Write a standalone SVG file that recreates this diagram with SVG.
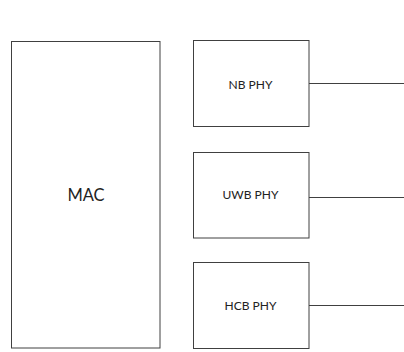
<svg xmlns="http://www.w3.org/2000/svg" width="404" height="352" viewBox="0 0 404 352">
<style>
.box{fill:#fff;stroke:#404040;stroke-width:1}
.lbl{font-family:Lato,"Liberation Sans",sans-serif;fill:#222;text-anchor:middle;dominant-baseline:central}
.wire{stroke:#404040;stroke-width:1;fill:none}
</style>
<rect width="404" height="352" fill="#fff"/>
<g id="mac"><rect class="box" x="11.5" y="41.5" width="148.5" height="306.5"/><text class="lbl" x="86" y="195" font-size="16.5">MAC</text></g>
<g id="nb"><rect class="box" x="193.5" y="40.5" width="115.5" height="86"/><text class="lbl" x="250.5" y="84" font-size="12">NB PHY</text></g>
<g id="uwb"><rect class="box" x="193.5" y="152.5" width="115.5" height="85.5"/><text class="lbl" x="250.5" y="194" font-size="12">UWB PHY</text></g>
<g id="hcb"><rect class="box" x="193.5" y="262.5" width="115.5" height="86"/><text class="lbl" x="250.5" y="305" font-size="12">HCB PHY</text></g>
<g id="connectors">
<line class="wire" x1="309" y1="83.5" x2="404" y2="83.5"/>
<line class="wire" x1="309" y1="197.5" x2="404" y2="197.5"/>
<line class="wire" x1="309" y1="305.5" x2="404" y2="305.5"/>
</g>
</svg>
